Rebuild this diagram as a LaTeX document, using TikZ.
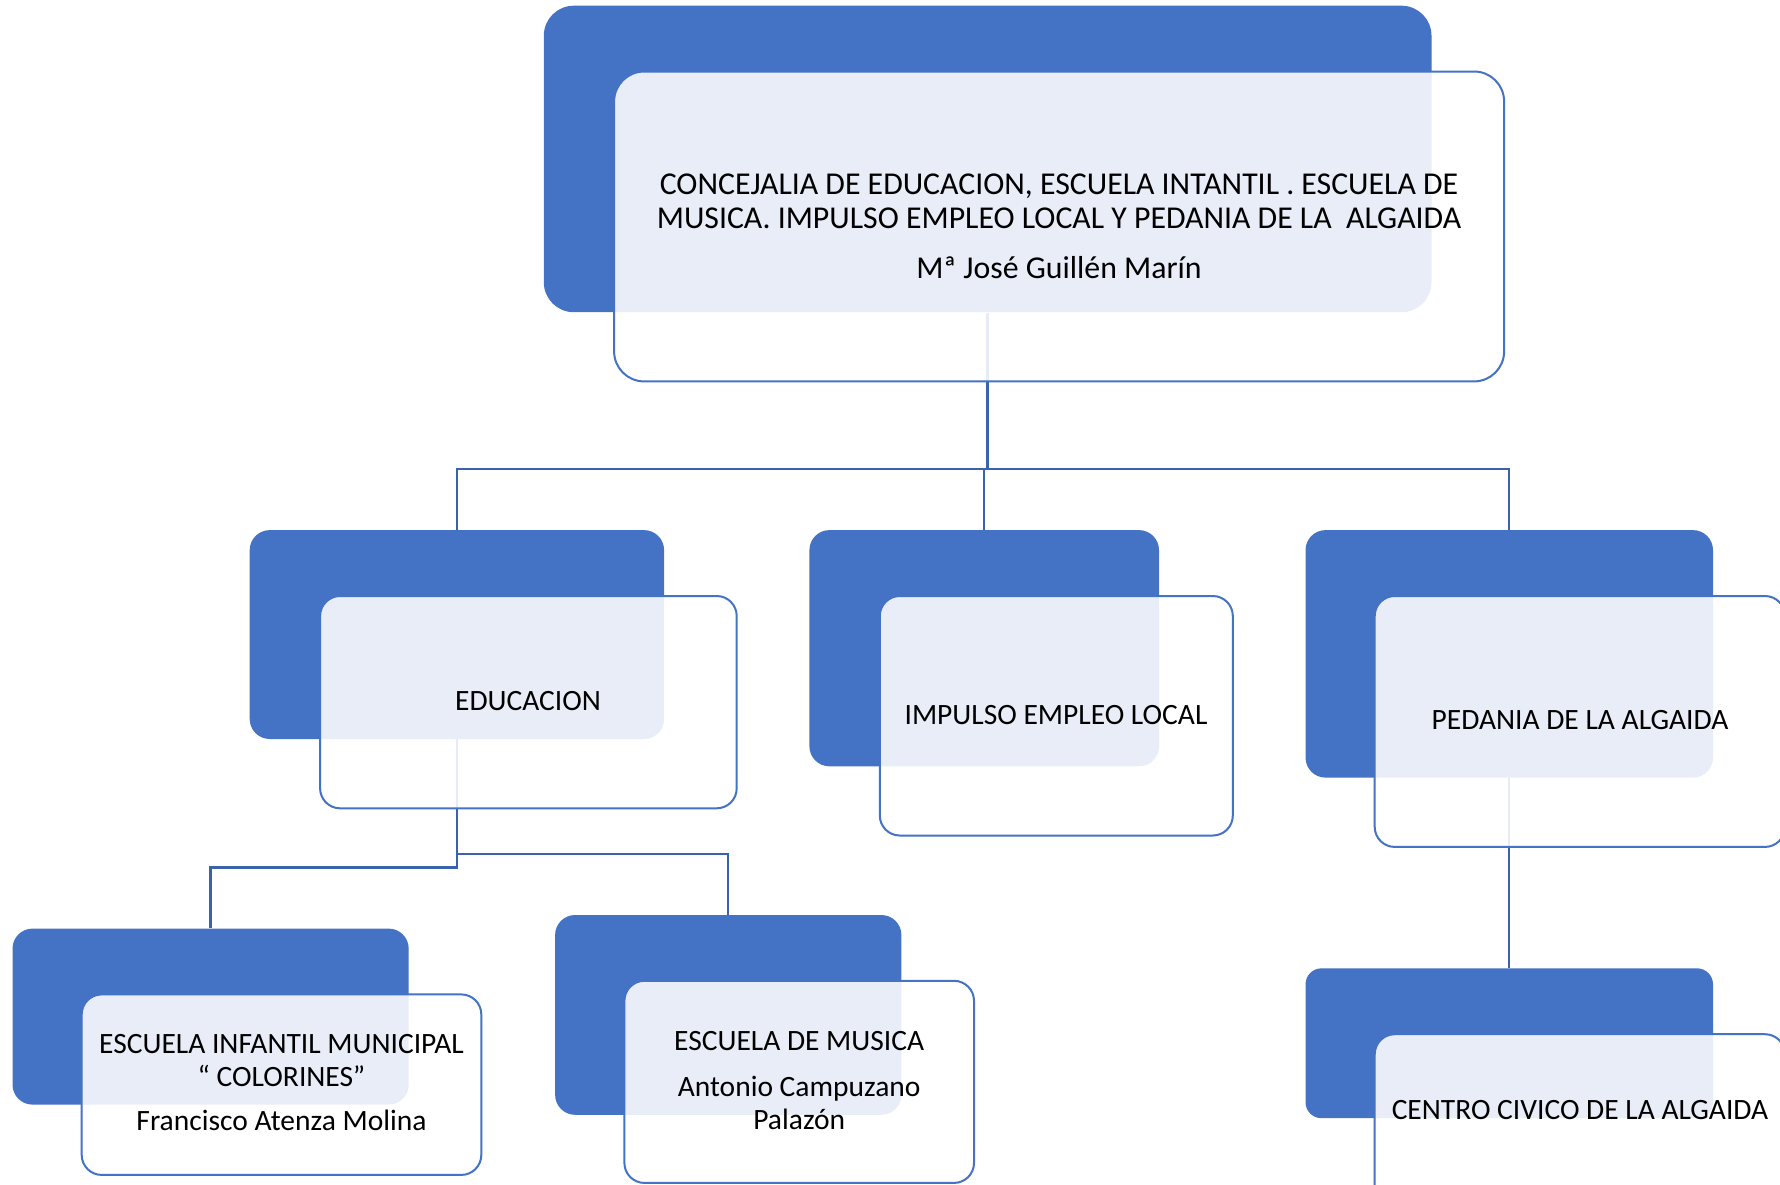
\documentclass[tikz,border=0pt]{standalone}
\usepackage{fontspec}
\setmainfont{Carlito}
\usetikzlibrary{fit}
\definecolor{accent}{HTML}{4472C4}
\definecolor{conn}{HTML}{3B63AC}
\begin{document}
\begin{tikzpicture}[x=0.5pt,y=-0.5pt,
  bluebox/.style={fill=accent, draw=none, rounded corners=#1, inner sep=0pt},
  bluebox/.default=10pt,
  whitebox/.style={fill=white, fill opacity=0.88, draw=accent, line width=1pt, rounded corners=#1, inner sep=0pt},
  whitebox/.default=10pt,
  connector/.style={draw=conn, line width=1.2pt},
  txt/.style={align=center, text=black, inner sep=0pt, font=\fontsize{14.75}{16.5}\selectfont},
  toptxt/.style={align=center, text=black, inner sep=0pt, font=\fontsize{15.9}{17}\selectfont}]
\useasboundingbox (0,0) rectangle (1780,1184);

% blue back boxes
\node[bluebox=15pt, fit={(543.8,5.7)(1431.5,312.2)}] (rootB) {};
\node[bluebox, fit={(249.7,530.1)(664.1,739)}] (eduB) {};
\node[bluebox, fit={(809.4,530.1)(1159,766.3)}] (empB) {};
\node[bluebox, fit={(1305.5,530.1)(1713,777.6)}] (pedB) {};
\node[bluebox=8pt, fit={(1305.5,968.3)(1713,1118.2)}] (cenB) {};
\node[bluebox, fit={(12.5,928.6)(408.7,1104.6)}] (infB) {};
\node[bluebox, fit={(555.1,915)(901.4,1114.8)}] (musB) {};

% connectors
\coordinate (bar1) at (0,468.8);
\coordinate (bar2) at (0,867.3);
\coordinate (bar3) at (0,853.7);
\draw[connector] (rootB.south) -- (rootB.south |- bar1);
\draw[connector] (eduB.north) -- (eduB.north |- bar1) -- (pedB.north |- bar1) -- (pedB.north);
\draw[connector] (empB.north) -- (empB.north |- bar1);
\draw[connector] (eduB.south) -- (eduB.south |- bar2) -- (infB.north |- bar2) -- (infB.north);
\draw[connector] (eduB.south |- bar3) -- (musB.north |- bar3) -- (musB.north);
\draw[connector] (pedB.south) -- (cenB.north);

% white front boxes
\node[whitebox=15pt, fit={(614.1,71.5)(1504.1,381.4)}] (rootW) {};
\node[whitebox, fit={(320.1,596)(736.7,808.3)}] (eduW) {};
\node[whitebox, fit={(879.8,596)(1232.8,835.5)}] (empW) {};
\node[whitebox, fit={(1374.7,596)(1785,846.9)}] (pedW) {};
\node[whitebox, fit={(1374.7,1034.2)(1785,1290)}] (cenW) {};
\node[whitebox, fit={(81.7,994.4)(481.3,1174.9)}] (infW) {};
\node[whitebox, fit={(624.4,980.8)(974,1182.9)}] (musW) {};

% texts
\node[toptxt] (rootT) at (1059,226) {CONCEJALIA DE EDUCACION, ESCUELA INTANTIL . ESCUELA DE\\MUSICA. IMPULSO EMPLEO LOCAL Y PEDANIA DE LA\ \ ALGAIDA\\[8pt]Mª José Guillén Marín};
\node[txt] (eduT) at (528,701) {EDUCACION};
\node[txt] (empT) at (1056,715) {IMPULSO EMPLEO LOCAL};
\node[txt] (pedT) at (1580,720) {PEDANIA DE LA ALGAIDA};
\node[txt] (cenT) at (1580,1110) {CENTRO CIVICO DE LA ALGAIDA};
\node[txt] (infT) at (281.5,1083) {ESCUELA INFANTIL MUNICIPAL\\“ COLORINES”\\[5.5pt]Francisco Atenza Molina};
\node[txt] (musT) at (799.2,1081) {ESCUELA DE MUSICA\\[6.5pt]Antonio Campuzano\\Palazón};
\end{tikzpicture}
\end{document}
